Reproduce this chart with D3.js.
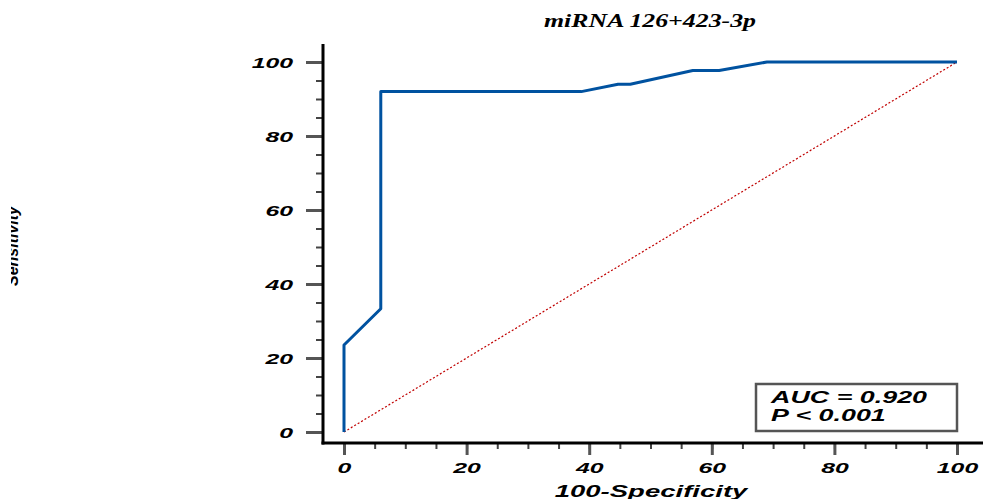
<!DOCTYPE html>
<html>
<head>
<meta charset="utf-8">
<style>
body { margin: 0; background: #fff; }
svg { display: block; }
text { font-family: "Liberation Sans", Arial, sans-serif; font-weight: bold; font-style: italic; fill: #000; }
</style>
<script src="https://cdn.jsdelivr.net/npm/d3@7"></script>
</head>
<body>
<script>
// ROC curve points
var fpr = [0, 0, 6, 6, 38.7, 44.7, 46.7, 56.9, 61.2, 69, 100];
var tpr = [0, 23.5, 33.3, 92, 92, 94, 94, 97.7, 97.7, 100, 100];
var majorTicks = [0, 20, 40, 60, 80, 100];
var minorTicks = d3.range(0, 101, 5);
var statLines = ["AUC = 0.920", "P < 0.001"];

var W = 983, H = 499, sx = 1.6;
var svg = d3.select("body").append("svg").attr("width", W).attr("height", H);

var x = d3.scaleLinear().domain([0, 100]).range([344, 957]);
var y = d3.scaleLinear().domain([0, 100]).range([432, 62]);
var x0 = 323, y0 = 443;

// minor ticks
svg.append("g").attr("transform", "translate(0," + y0 + ")")
	.call(d3.axisBottom(x).tickValues(minorTicks).tickSize(6).tickFormat(""))
	.call(function(g) { g.select(".domain").remove(); g.selectAll("line").attr("stroke", "#444").attr("stroke-width", 2); });
svg.append("g").attr("transform", "translate(" + x0 + ",0)")
	.call(d3.axisLeft(y).tickValues(minorTicks).tickSize(7).tickFormat(""))
	.call(function(g) { g.select(".domain").remove(); g.selectAll("line").attr("stroke", "#444").attr("stroke-width", 2); });

// major ticks + labels
var xa = svg.append("g").attr("transform", "translate(0," + y0 + ")")
	.call(d3.axisBottom(x).tickValues(majorTicks).tickSize(12));
xa.select(".domain").remove();
xa.selectAll("line").attr("stroke", "#555").attr("stroke-width", 3);
xa.selectAll("text").attr("y", 30).attr("dy", 0).attr("font-size", 15.5)
	.attr("font-family", "Liberation Sans").attr("transform", "scale(" + sx + ",1)");

var ya = svg.append("g").attr("transform", "translate(" + x0 + ",0)")
	.call(d3.axisLeft(y).tickValues(majorTicks).tickSize(17));
ya.select(".domain").remove();
ya.selectAll("line").attr("stroke", "#555").attr("stroke-width", 3);
ya.selectAll("text").attr("x", -30 / sx).attr("dy", "0.36em").attr("font-size", 15.5)
	.attr("font-family", "Liberation Sans").attr("transform", "scale(" + sx + ",1)");

// axis lines
svg.append("line").attr("x1", x0).attr("x2", x0).attr("y1", 44).attr("y2", y0 + 1.5)
	.attr("stroke", "#000").attr("stroke-width", 3);
svg.append("line").attr("x1", x0 - 1.5).attr("x2", W).attr("y1", y0).attr("y2", y0)
	.attr("stroke", "#000").attr("stroke-width", 3);

// reference diagonal
svg.append("line").attr("x1", x(0)).attr("y1", y(0)).attr("x2", x(100)).attr("y2", y(100))
	.attr("stroke", "#c00000").attr("stroke-width", 1.2).attr("stroke-dasharray", "2,2");

// ROC curve
var line = d3.line().x(function(d, i) { return x(fpr[i]); }).y(function(d, i) { return y(tpr[i]); });
svg.append("path").datum(fpr).attr("d", line)
	.attr("fill", "none").attr("stroke", "#0052a0").attr("stroke-width", 3).attr("stroke-linejoin", "round");

// stats box
svg.append("rect").attr("x", 756).attr("y", 384).attr("width", 201).attr("height", 47)
	.attr("fill", "#fff").attr("stroke", "#555").attr("stroke-width", 2.5);
svg.selectAll(".stat").data(statLines).enter().append("text")
	.attr("class", "stat").attr("font-size", 16)
	.attr("transform", function(d, i) { return "translate(771," + (403 + i * 18) + ") scale(1.68,1)"; })
	.text(function(d) { return d; });

// title
svg.append("text").attr("transform", "translate(650,27) scale(1.36,1)")
	.attr("text-anchor", "middle").attr("font-size", 19)
	.style("font-family", "'Liberation Serif', 'Times New Roman', serif")
	.text("miRNA 126+423-3p");

// axis titles
svg.append("text").attr("transform", "translate(651,497) scale(1.72,1)")
	.attr("text-anchor", "middle").attr("font-size", 16).text("100-Specificity");

svg.append("defs").append("clipPath").attr("id", "clipL")
	.append("rect").attr("x", 11).attr("y", 0).attr("width", 40).attr("height", H);
svg.append("g").attr("clip-path", "url(#clipL)")
	.append("text").attr("transform", "translate(18,246) rotate(-90)")
	.attr("text-anchor", "middle").attr("font-size", 16).text("Sensitivity");
</script>
</body>
</html>
